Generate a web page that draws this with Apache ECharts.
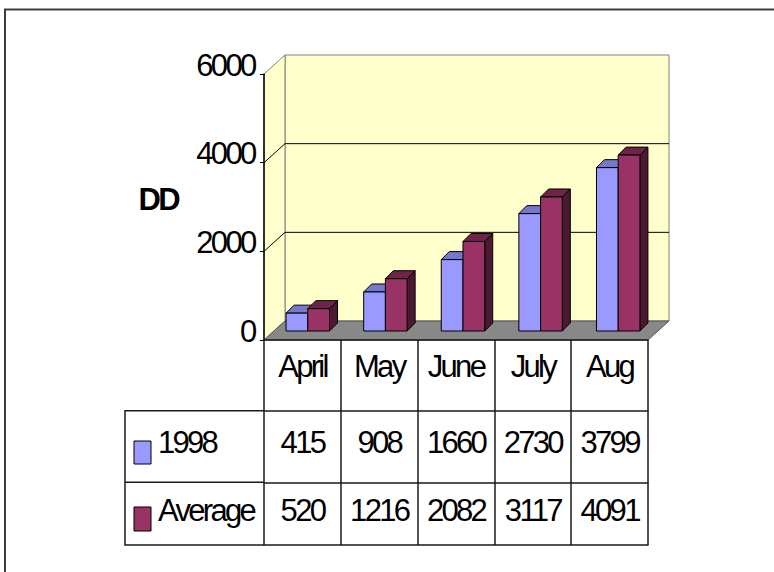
<!DOCTYPE html>
<html>
<head>
<meta charset="utf-8">
<title>DD</title>
<script src="https://cdn.jsdelivr.net/npm/echarts@6/dist/echarts.min.js"></script>
<style>
  html, body { margin: 0; padding: 0; background: #fff; }
  #main { width: 774px; height: 572px; }
  /* the old chart's lettering is tall and tightly packed */
  #main svg text { letter-spacing: -2.7px; }
</style>
</head>
<body>
<div id="main"></div>
<script>
const months = ["April", "May", "June", "July", "Aug"];
const seriesNames = ["1998", "Average"];
const values1998 = [415, 908, 1660, 2730, 3799];
const valuesAverage = [520, 1216, 2082, 3117, 4091];
const yTicks = [0, 2000, 4000, 6000];

const FONT = "'Liberation Sans', Arial, sans-serif";
const DEPTH = [21, -19]; // front plane -> back wall
const BAR_DEPTH = [8, -8];
const faces = {
  "1998": { front: "#9999ff", top: "#7777cc", side: "#5c5c99" },
  Average: { front: "#993366", top: "#6e2449", side: "#4c1933" },
};
const tableLine = { color: "#1a1a1a", width: 1.5 };

const chart = echarts.init(document.getElementById("main"), null, { renderer: "svg" });

// walls, floor and gridlines of the 3d box
function renderScene(params, api) {
  const cs = params.coordSys;
  const [dx, dy] = DEPTH;
  const x0 = cs.x, x1 = cs.x + cs.width;
  const yTop = api.coord([0, yTicks[yTicks.length - 1]])[1];
  const yBot = api.coord([0, yTicks[0]])[1];
  const wall = { fill: "#ffffcc", stroke: "#808080", lineWidth: 1 };
  const children = [
    { type: "polygon", shape: { points: [[x0 + dx, yTop + dy], [x1 + dx, yTop + dy], [x1 + dx, yBot + dy], [x0 + dx, yBot + dy]] }, style: wall },
    { type: "polygon", shape: { points: [[x0, yTop], [x0 + dx, yTop + dy], [x0 + dx, yBot + dy], [x0, yBot]] }, style: wall },
  ];
  yTicks.slice(1, -1).forEach((v) => {
    const y = api.coord([0, v])[1];
    children.push({
      type: "polyline",
      shape: { points: [[x0, y], [x0 + dx, y + dy], [x1 + dx, y + dy]] },
      style: { stroke: "#000", lineWidth: 1, fill: null },
    });
  });
  children.push({
    type: "polygon",
    shape: { points: [[x0, yBot], [x1, yBot], [x1 + dx, yBot + dy], [x0 + dx, yBot + dy]] },
    style: { fill: "#888888", stroke: "#555", lineWidth: 1 },
  });
  return { type: "group", children };
}

function barRenderer(seriesIndex) {
  return function (params, api) {
    const i = api.value(0);
    const v = api.value(1);
    const w = api.size([1, 0])[0] * 0.28;
    const base = api.coord([i, 0]);
    const top = api.coord([i, v]);
    const xl = base[0] + (seriesIndex === 0 ? -w : 0);
    const xr = xl + w;
    const [bx, by] = BAR_DEPTH;
    const c = faces[seriesNames[seriesIndex]];
    const edge = { stroke: "#000", lineWidth: 1, lineJoin: "round" };
    return {
      type: "group",
      children: [
        { type: "polygon", shape: { points: [[xr, top[1]], [xr + bx, top[1] + by], [xr + bx, base[1] + by], [xr, base[1]]] }, style: Object.assign({ fill: c.side }, edge) },
        { type: "polygon", shape: { points: [[xl, top[1]], [xr, top[1]], [xr + bx, top[1] + by], [xl + bx, top[1] + by]] }, style: Object.assign({ fill: c.top }, edge) },
        { type: "rect", shape: { x: xl, y: top[1], width: w, height: base[1] - top[1] }, style: Object.assign({ fill: c.front }, edge) },
      ],
    };
  };
}

const labelStyle = { fontFamily: FONT, fontSize: 31, color: "#000" };

// row headers of the data table: legend key + series name
const rowHeads = [
  { name: seriesNames[0], key: [134, 441, 17, 23], textY: 442 },
  { name: seriesNames[1], key: [134, 507, 17, 24], textY: 510 },
];
const rowHeadGraphics = [];
rowHeads.forEach((r) => {
  rowHeadGraphics.push({
    type: "rect", silent: true,
    shape: { x: r.key[0], y: r.key[1], width: r.key[2], height: r.key[3] },
    style: { fill: faces[r.name].front, stroke: "#000", lineWidth: 1 },
  });
  rowHeadGraphics.push({
    type: "text", silent: true, x: 158, y: r.textY,
    style: { text: r.name, font: "31px " + FONT, fill: "#000", align: "left", verticalAlign: "middle" },
  });
});

chart.setOption({
  animation: false,
  backgroundColor: "#fff",
  grid: [
    { left: 264, top: 74, width: 384, height: 266 }, // front plane
    { left: 269, top: 73, width: 388, height: 258 }, // plane the bars stand on
  ],
  xAxis: [
    {
      gridIndex: 0, type: "category", data: months, position: "bottom",
      axisLine: { lineStyle: tableLine },
      axisTick: { show: true, interval: 0, length: 205, lineStyle: tableLine },
      axisLabel: Object.assign({ interval: 0, margin: 26.5, verticalAlign: "middle" }, labelStyle),
      splitLine: { show: false },
    },
    {
      gridIndex: 0, type: "category", data: values1998.map(String), position: "bottom", offset: 70.7,
      axisLine: { lineStyle: tableLine }, axisTick: { show: false },
      axisLabel: Object.assign({ interval: 0, margin: 31.3, verticalAlign: "middle" }, labelStyle),
    },
    {
      gridIndex: 0, type: "category", data: valuesAverage.map(String), position: "bottom", offset: 142.3,
      axisLine: { lineStyle: tableLine }, axisTick: { show: false },
      axisLabel: Object.assign({ interval: 0, margin: 27.7, verticalAlign: "middle" }, labelStyle),
    },
    {
      gridIndex: 0, type: "category", data: months, position: "bottom", offset: 205,
      axisLine: { lineStyle: tableLine }, axisTick: { show: false }, axisLabel: { show: false },
    },
    { gridIndex: 1, type: "category", data: months, show: false },
  ],
  yAxis: [
    {
      gridIndex: 0, type: "value", min: yTicks[0], max: yTicks[yTicks.length - 1], interval: 2000,
      axisLine: { show: true, lineStyle: { color: "#000", width: 1.5 } },
      axisTick: { show: true, length: 4, lineStyle: { color: "#000" } },
      axisLabel: Object.assign({ margin: 9.5, verticalAlign: "bottom", lineHeight: 18, formatter: (v) => String(v) }, labelStyle),
      splitLine: { show: false },
      name: "DD", nameLocation: "middle", nameRotate: 0, nameGap: 100,
      nameTextStyle: { fontFamily: FONT, fontSize: 31, fontWeight: "bold", color: "#000", align: "center", verticalAlign: "bottom", lineHeight: 16 },
    },
    { gridIndex: 1, type: "value", min: yTicks[0], max: yTicks[yTicks.length - 1], show: false },
  ],
  graphic: [
    { type: "rect", silent: true, z: -10, shape: { x: 5, y: 9.5, width: 900, height: 700 }, style: { fill: "none", stroke: "#3c3c3c", lineWidth: 2 } },
    { type: "polyline", silent: true, shape: { points: [[264, 410.7], [125, 410.7], [125, 545], [264, 545]] }, style: { fill: null, stroke: tableLine.color, lineWidth: tableLine.width } },
    { type: "line", silent: true, shape: { x1: 125, y1: 482.3, x2: 264, y2: 482.3 }, style: { stroke: tableLine.color, lineWidth: tableLine.width } },
  ].concat(rowHeadGraphics),
  series: [
    { type: "custom", name: "scene", xAxisIndex: 0, yAxisIndex: 0, z: -5, silent: true, clip: false, data: [[0, 0]], renderItem: renderScene },
    { type: "custom", name: seriesNames[0], xAxisIndex: 4, yAxisIndex: 1, clip: false, itemStyle: { color: faces["1998"].front }, data: values1998.map((v, i) => [i, v]), renderItem: barRenderer(0) },
    { type: "custom", name: seriesNames[1], xAxisIndex: 4, yAxisIndex: 1, clip: false, itemStyle: { color: faces.Average.front }, data: valuesAverage.map((v, i) => [i, v]), renderItem: barRenderer(1) },
  ],
});
</script>
</body>
</html>
